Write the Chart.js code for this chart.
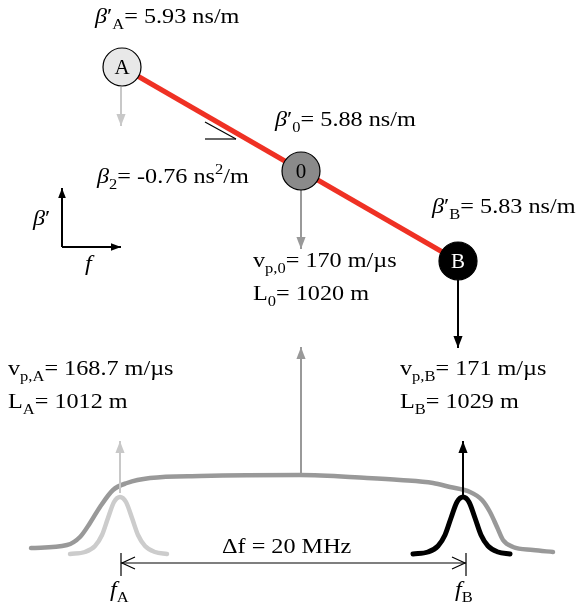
<!DOCTYPE html>
<html lang="en">
<head>
<meta charset="UTF-8">
<title>Group delay / dispersion sketch</title>
<script src="https://cdn.jsdelivr.net/npm/chart.js"></script>
<style>
  body { margin: 0; background: #fff; }
  #wrap { width: 578px; height: 610px; }
</style>
</head>
<body>
<div id="wrap"><canvas id="diagram" width="578" height="610"></canvas></div>
<script>
// diagram units: x to the right, y downward (0..578, 0..610)
const nodeNames = ['A', '0', 'B'];
const nodeX = [122, 301, 458];
const nodeY = [67, 171, 261];
const nodeFill = ['#e8e8e8', '#8a8a8a', '#000000'];
const nodeText = ['#000000', '#000000', '#ffffff'];

// broad grey spectrum
const wideX = [31, 67, 80, 90, 100, 113, 127, 150, 200, 300, 367, 400, 433, 450, 470, 482, 490, 497, 503, 513, 533, 553];
const wideY = [548, 545, 537, 523, 507, 490, 483, 478, 476, 475, 478, 480, 483, 487, 492, 500, 512, 527, 540, 547, 550, 552];

// narrow pulses at f_A and f_B
const bellAX = [70, 85, 95, 102, 108, 114, 120, 126, 132, 138, 145, 155, 167];
const bellBX = [413, 428, 438, 445, 451, 457, 463, 469, 475, 481, 488, 498, 510];
const bellY = [554, 552, 546, 535, 518, 502, 497, 502, 518, 535, 546, 552, 554];

// arrows: start, end
const arrowStart = [[121, 87], [301, 190], [458, 280], [301, 475], [120, 493], [463, 496], [62, 247], [62, 247]];
const arrowEnd = [[121, 126], [301, 249], [458, 348], [301, 347], [120, 441], [463, 441], [62, 188], [121, 247]];
const arrowColor = ['#c8c8c8', '#999999', '#000000', '#999999', '#c8c8c8', '#000000', '#000000', '#000000'];
const arrowHead = [12, 12, 12, 12, 12, 12, 10, 10];

// delta f dimension line
const spanX = [121, 466];
const spanY = 563;
const tickTop = 553, tickBottom = 576;

// slope marker
const slopeX = [205, 236];
const slopeY = [122, 139];

const labels = [
  { x: 95, y: 23, parts: [['β', 'i'], ['′', 'r'], ['A', 'b'], ['= 5.93 ns/m', 'r']] },
  { x: 275, y: 126, parts: [['β', 'i'], ['′', 'r'], ['0', 'b'], ['= 5.88 ns/m', 'r']] },
  { x: 97, y: 183, parts: [['β', 'i'], ['2', 'b'], ['= -0.76 ns', 'r'], ['2', 'p'], ['/m', 'r']] },
  { x: 432, y: 213, parts: [['β', 'i'], ['′', 'r'], ['B', 'b'], ['= 5.83 ns/m', 'r']] },
  { x: 253, y: 267, parts: [['v', 'r'], ['p,0', 'b'], ['= 170 m/µs', 'r']] },
  { x: 253, y: 300, parts: [['L', 'r'], ['0', 'b'], ['= 1020 m', 'r']] },
  { x: 8, y: 375, parts: [['v', 'r'], ['p,A', 'b'], ['= 168.7 m/µs', 'r']] },
  { x: 8, y: 408, parts: [['L', 'r'], ['A', 'b'], ['= 1012 m', 'r']] },
  { x: 400, y: 375, parts: [['v', 'r'], ['p,B', 'b'], ['= 171 m/µs', 'r']] },
  { x: 400, y: 408, parts: [['L', 'r'], ['B', 'b'], ['= 1029 m', 'r']] },
  { x: 222, y: 553, parts: [['Δf = 20 MHz', 'r']] },
  { x: 110, y: 596, parts: [['f', 'i'], ['A', 'b']] },
  { x: 455, y: 596, parts: [['f', 'i'], ['B', 'b']] },
  { x: 33, y: 225, parts: [['β', 'i'], ['′', 'r']] },
  { x: 85, y: 270, parts: [['f', 'i']] }
];

const FONT = 22, SUB = 15, STRETCH = 1.1;
const FAMILY = '"Liberation Serif", "Times New Roman", serif';

function pts(xs, ys) {
  return xs.map((x, i) => ({ x: x, y: ys[i] }));
}

function lineSet(data, color, width, extra) {
  return Object.assign({
    data: data, showLine: true, borderColor: color, borderWidth: width,
    pointRadius: 0, pointHoverRadius: 0, fill: false, order: 3
  }, extra || {});
}

const datasets = [];
datasets.push({
  data: pts(nodeX, nodeY), pointRadius: 19, pointHoverRadius: 19,
  pointBackgroundColor: nodeFill, pointBorderColor: '#000', pointBorderWidth: 1.2, order: 0
});
datasets.push(lineSet([{ x: nodeX[0], y: nodeY[0] }, { x: nodeX[2], y: nodeY[2] }], '#ef3124', 5, { order: 1 }));
datasets.push(lineSet(pts(wideX, wideY), '#999999', 4.5, { cubicInterpolationMode: 'monotone', borderCapStyle: 'round' }));
datasets.push(lineSet(pts(bellAX, bellY), '#cccccc', 4.5, { cubicInterpolationMode: 'monotone', borderCapStyle: 'round', order: 2 }));
datasets.push(lineSet(pts(bellBX, bellY), '#000000', 5, { cubicInterpolationMode: 'monotone', borderCapStyle: 'round', order: 2 }));
arrowStart.forEach((s, i) => {
  datasets.push(lineSet([{ x: s[0], y: s[1] }, { x: arrowEnd[i][0], y: arrowEnd[i][1] }], arrowColor[i], 2, { order: 1 }));
});
datasets.push(lineSet([{ x: spanX[0], y: spanY }, { x: spanX[1], y: spanY }], '#000', 1.2));
spanX.forEach(x => datasets.push(lineSet([{ x: x, y: tickTop }, { x: x, y: tickBottom }], '#000', 1.2)));
datasets.push(lineSet([{ x: slopeX[0], y: slopeY[0] }, { x: slopeX[1], y: slopeY[1] }], '#000', 1.2));
datasets.push(lineSet([{ x: slopeX[0], y: slopeY[1] }, { x: slopeX[1], y: slopeY[1] }], '#000', 1.2));

function drawRich(ctx, x, y, parts) {
  ctx.save();
  ctx.translate(x, y);
  ctx.scale(STRETCH, 1);
  ctx.fillStyle = '#000';
  ctx.textBaseline = 'alphabetic';
  let cx = 0;
  for (const [s, st] of parts) {
    let size = FONT, dy = 0, style = '';
    if (st === 'i') style = 'italic ';
    if (st === 'b') { size = SUB; dy = 6; }
    if (st === 'p') { size = SUB; dy = -9; }
    ctx.font = style + size + 'px ' + FAMILY;
    ctx.fillText(s, cx, dy);
    cx += ctx.measureText(s).width;
  }
  ctx.restore();
}

const diagramPlugin = {
  id: 'diagram',
  afterDatasetsDraw(chart) {
    const ctx = chart.ctx;
    const sx = chart.scales.x, sy = chart.scales.y;
    const X = v => sx.getPixelForValue(v), Y = v => sy.getPixelForValue(v);

    // solid arrowheads
    arrowEnd.forEach((e, i) => {
      const s = arrowStart[i];
      const x1 = X(s[0]), y1 = Y(s[1]), x2 = X(e[0]), y2 = Y(e[1]);
      const a = Math.atan2(y2 - y1, x2 - x1);
      const L = arrowHead[i], W = L * 0.38;
      ctx.save();
      ctx.fillStyle = arrowColor[i];
      ctx.beginPath();
      ctx.moveTo(x2, y2);
      ctx.lineTo(x2 - L * Math.cos(a) + W * Math.sin(a), y2 - L * Math.sin(a) - W * Math.cos(a));
      ctx.lineTo(x2 - L * Math.cos(a) - W * Math.sin(a), y2 - L * Math.sin(a) + W * Math.cos(a));
      ctx.closePath();
      ctx.fill();
      ctx.restore();
    });

    // open arrowheads on the delta f line
    ctx.save();
    ctx.strokeStyle = '#000';
    ctx.lineWidth = 1.2;
    [[spanX[0], 1], [spanX[1], -1]].forEach(([x, dir]) => {
      ctx.beginPath();
      ctx.moveTo(X(x) + dir * 14, Y(spanY) - 6);
      ctx.lineTo(X(x) + dir * 1, Y(spanY));
      ctx.lineTo(X(x) + dir * 14, Y(spanY) + 6);
      ctx.stroke();
    });
    ctx.restore();

    // node letters
    nodeNames.forEach((n, i) => {
      ctx.save();
      ctx.font = '21px ' + FAMILY;
      ctx.fillStyle = nodeText[i];
      ctx.textAlign = 'center';
      ctx.textBaseline = 'middle';
      ctx.fillText(n, X(nodeX[i]), Y(nodeY[i]) + 1);
      ctx.restore();
    });

    labels.forEach(l => drawRich(ctx, X(l.x), Y(l.y), l.parts));
  }
};

new Chart(document.getElementById('diagram'), {
  type: 'scatter',
  data: { datasets: datasets },
  options: {
    responsive: false,
    animation: false,
    layout: { padding: 0, autoPadding: false },
    plugins: { legend: { display: false }, tooltip: { enabled: false } },
    scales: {
      x: { type: 'linear', min: 0, max: 578, display: false },
      y: { type: 'linear', min: 0, max: 610, reverse: true, display: false }
    }
  },
  plugins: [diagramPlugin]
});
</script>
</body>
</html>
